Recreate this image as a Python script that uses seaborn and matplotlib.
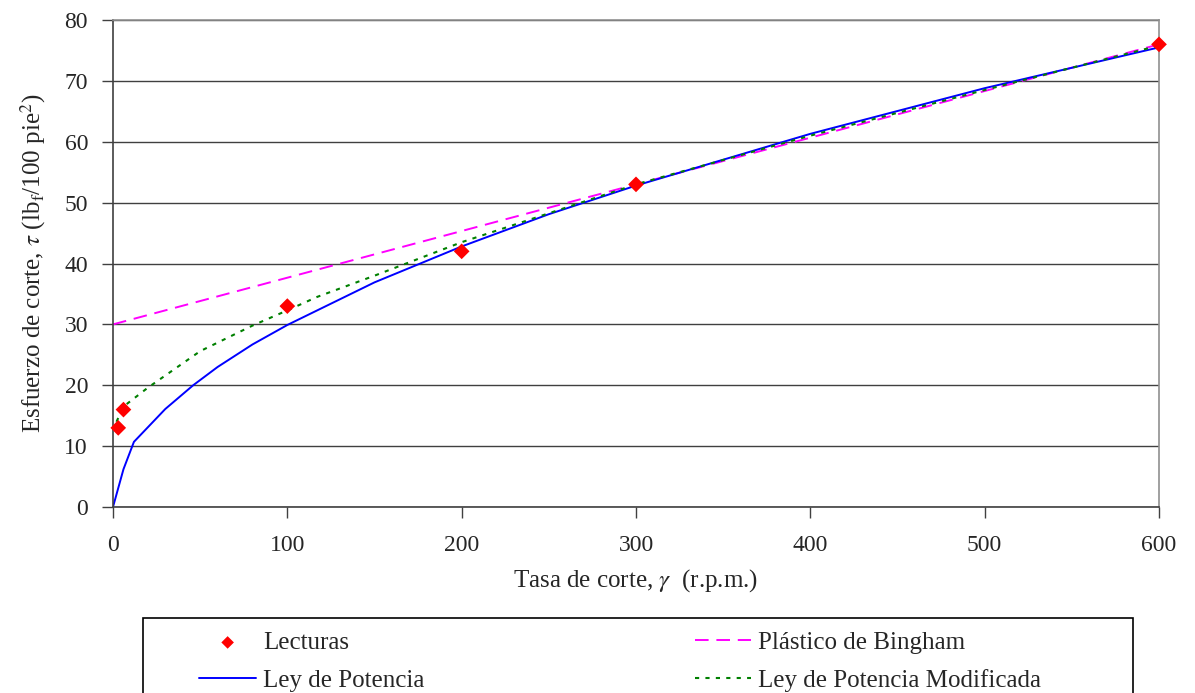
import numpy as np
import pandas as pd
import matplotlib
matplotlib.use("Agg")
import matplotlib.pyplot as plt
from matplotlib.patches import Rectangle
import seaborn as sns

# lecturas del viscosimetro
rpm = [3, 6, 100, 200, 300, 600]
lecturas = [13, 16, 33, 42, 53, 76]

# modelos
bingham_x = [0, 600]
bingham_y = [30, 76]

potencia_x = [0, 6, 12, 20, 30, 46, 60, 80, 100, 150, 200, 250, 300, 400, 500, 600]
potencia_y = [0, 6.2, 10.7, 13.1, 16.1, 20.0, 23.0, 26.7, 29.9, 36.9, 42.8, 48.1, 52.8, 61.3, 68.8, 75.5]

modif_x = [2, 6, 20, 50, 80, 100, 117, 150, 200, 300, 400, 500, 600]
modif_y = [14.0, 16.5, 19.6, 25.6, 29.8, 32.3, 34.5, 38.0, 43.5, 53.0, 61.0, 68.5, 75.8]

sns.set_theme(style="white")
plt.rcParams['font.family'] = ['Liberation Serif', 'DejaVu Serif']
plt.rcParams['mathtext.fontset'] = 'stix'

W, H = 1195, 693
fig = plt.figure(figsize=(W / 100, H / 100), dpi=100)
ax = fig.add_axes([113 / W, 1 - 507 / H, (1159 - 113) / W, (507 - 20) / H])

ax.yaxis.grid(True, color='#404040', linewidth=1)
ax.set_axisbelow(True)

sns.lineplot(x=bingham_x, y=bingham_y, ax=ax, color='#FF00FF', linewidth=1.4,
             linestyle=(0, (7, 4)), label='Plástico de Bingham')
sns.lineplot(x=potencia_x, y=potencia_y, ax=ax, color='#0000FF', linewidth=1.4,
             label='Ley de Potencia')
sns.lineplot(x=modif_x, y=modif_y, ax=ax, color='#008000', linewidth=1.5,
             linestyle=(0, (2, 3)), label='Ley de Potencia Modificada')
sns.scatterplot(x=rpm, y=lecturas, ax=ax, color='#FF0000', marker='D', s=64,
                edgecolor='none', label='Lecturas', zorder=5, clip_on=False)

ax.set_xlim(0, 600)
ax.set_ylim(0, 80)
ax.set_xticks(range(0, 601, 100))
ax.set_yticks(range(0, 81, 10))
ax.tick_params(axis='both', direction='out', length=8, width=1, color='#404040',
               labelsize=17, bottom=True, left=True)
ax.tick_params(axis='x', pad=12)
ax.tick_params(axis='y', pad=10)

for s in ['left', 'bottom']:
    ax.spines[s].set_color('#404040')
    ax.spines[s].set_linewidth(1.2)
for s in ['top', 'right']:
    ax.spines[s].set_color('#909090')
    ax.spines[s].set_linewidth(1.2)

ax.set_xlabel(r'Tasa de corte, $\gamma$  (r.p.m.)', fontsize=18, labelpad=8)
ax.set_ylabel(r'Esfuerzo de corte, $\tau$ (lb$_\mathrm{f}$/100 pie$^2$)', fontsize=18, labelpad=12)

# leyenda abajo, con marco cortado por el borde de la imagen
handles, labels = ax.get_legend_handles_labels()
hmap = dict(zip(labels, handles))
if ax.legend_:
    ax.legend_.remove()
fig.add_artist(Rectangle((143 / W, -0.05), (1133 - 143) / W, 0.05 + 1 - 618 / H,
                         transform=fig.transFigure, facecolor='white', edgecolor='black',
                         linewidth=1.2, clip_on=False))
opts = dict(frameon=False, loc='upper left', fontsize=18, handlelength=2.25,
            handletextpad=0.3, labelspacing=0.6, borderpad=0, markerscale=0.8)
col1 = ['Lecturas', 'Ley de Potencia']
col2 = ['Plástico de Bingham', 'Ley de Potencia Modificada']
fig.legend([hmap[k] for k in col1], col1, bbox_to_anchor=(187 / W, 1 - 619 / H), **opts)
fig.legend([hmap[k] for k in col2], col2, bbox_to_anchor=(682 / W, 1 - 619 / H), **opts)

fig.savefig('out.png', dpi=100)
